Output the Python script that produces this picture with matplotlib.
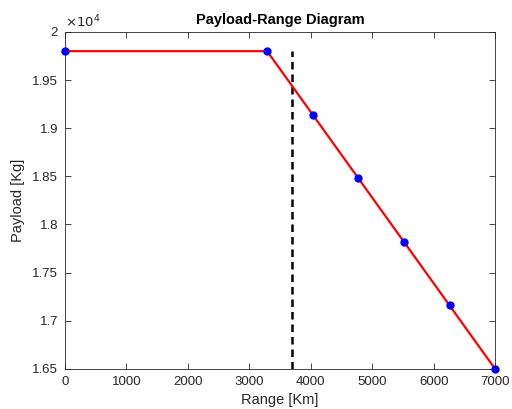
import numpy as np
import matplotlib.pyplot as plt
from matplotlib.ticker import FuncFormatter

plt.rcParams['font.family'] = ['Liberation Sans', 'DejaVu Sans']

rangeKm = [0, 3290, 4032, 4774, 5516, 6258, 7000]
payloadKg = [19800, 19800, 19140, 18480, 17820, 17160, 16500]
designRange = 3700
designTop = 19800

xTicks = [0, 1000, 2000, 3000, 4000, 5000, 6000, 7000]
yTicks = [16500, 17000, 17500, 18000, 18500, 19000, 19500, 20000]

grey = '#262626'

fig = plt.figure(figsize=(5.12, 4.09), dpi=100)
ax = fig.add_axes([0.127, 0.098, 0.84, 0.824])

ax.plot(rangeKm, payloadKg, '-', color='red', lw=1.6, zorder=2, clip_on=False)
ax.plot(rangeKm, payloadKg, 'o', color='blue', ms=5, zorder=3, clip_on=False)
ax.plot([designRange, designRange], [16500, designTop], '--', color='black', lw=1.8,
        dashes=(3, 2), zorder=1)

ax.set_xlim(0, 7000)
ax.set_ylim(16500, 20000)
ax.set_xticks(xTicks)
ax.set_yticks(yTicks)
ax.yaxis.set_major_formatter(FuncFormatter(lambda v, p: '%g' % (v / 1e4)))
ax.tick_params(direction='in', top=True, right=True, labelsize=9.5, colors=grey,
               length=4, width=0.6)
ax.tick_params(axis='x', pad=5)
ax.tick_params(axis='y', pad=5)
for s in ax.spines.values():
    s.set_color(grey)
    s.set_linewidth(0.6)

ax.text(0.0, 1.005, r'$\times10^4$', transform=ax.transAxes, fontsize=9.5,
        color=grey, ha='left', va='bottom')
ax.set_xlabel('Range [Km]', fontsize=10.5, color=grey, labelpad=4)
ax.set_ylabel('Payload [Kg]', fontsize=10.5, color=grey, labelpad=5)
ax.set_title('Payload-Range Diagram', fontsize=10.5, fontweight='bold', pad=6)

fig.savefig('out.png', dpi=100)
